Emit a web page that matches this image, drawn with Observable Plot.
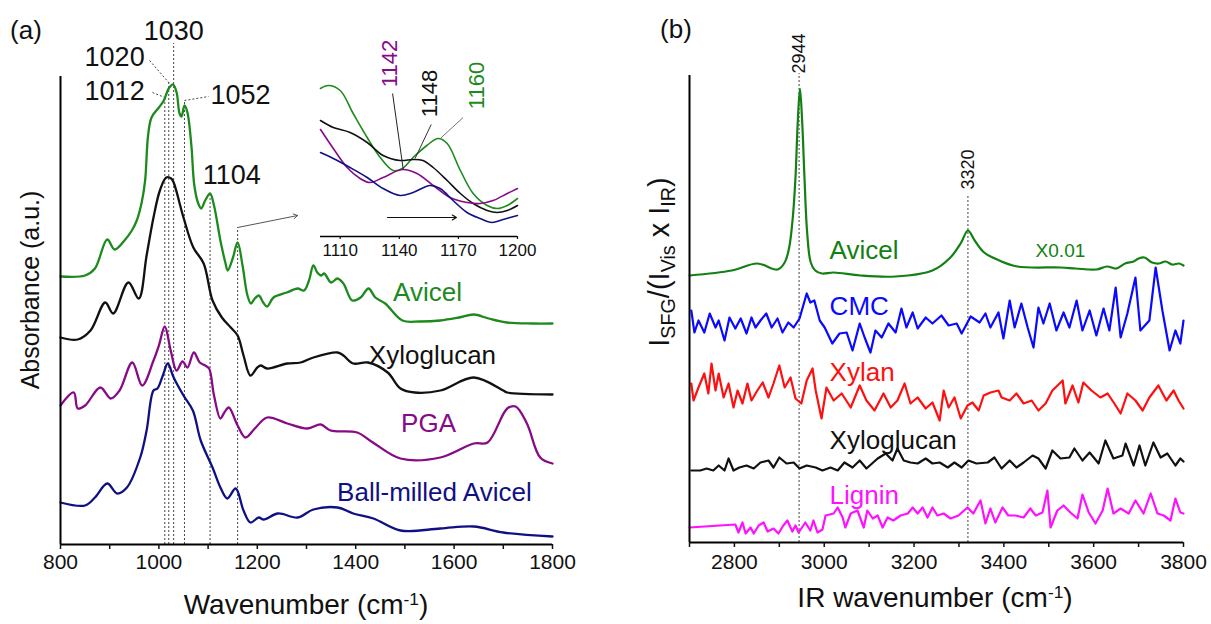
<!DOCTYPE html>
<html>
<head>
<meta charset="utf-8">
<script src="https://cdn.jsdelivr.net/npm/d3@7"></script>
<script src="https://cdn.jsdelivr.net/npm/@observablehq/plot@0.6"></script>
<style>
  body { margin: 0; background: #fff; }
  #fig { position: relative; width: 1211px; height: 624px; overflow: hidden; background: #fff;
         font-family: "Liberation Sans", Arial, Helvetica, sans-serif; color: #111; }
  #fig svg { position: absolute; top: 0; overflow: visible; }
  .lbl { position: absolute; white-space: nowrap; line-height: 1; }
  .lbl sub { font-size: 0.68em; vertical-align: -0.3em; }
  .lbl sup { font-size: 0.62em; vertical-align: 0.55em; }
</style>
</head>
<body>
<div id="fig"></div>
<script>
// ---------- (a) FTIR absorbance spectra, offset vertically [wavenumber, a.u.] ----------
const avicelA = [[800,2.68],[850,2.69],[870,2.76],[895,3.05],[910,2.95],[930,3.04],[945,3.14],[955,3.24],[965,3.42],[972,3.64],[978,4.09],[985,4.27],[1000,4.37],[1010,4.44],[1020,4.56],[1029,4.60],[1036,4.52],[1042,4.31],[1046,4.28],[1052,4.39],[1058,4.32],[1066,3.99],[1072,3.59],[1080,3.41],[1086,3.36],[1094,3.44],[1104,3.51],[1112,3.39],[1125,3.04],[1135,2.82],[1140,2.74],[1150,2.86],[1160,3.02],[1170,2.79],[1180,2.49],[1187,2.41],[1195,2.46],[1203,2.49],[1212,2.42],[1220,2.38],[1233,2.47],[1260,2.52],[1282,2.56],[1295,2.54],[1305,2.64],[1314,2.79],[1322,2.72],[1330,2.69],[1336,2.71],[1350,2.62],[1363,2.66],[1375,2.61],[1393,2.44],[1410,2.47],[1426,2.56],[1440,2.47],[1460,2.41],[1495,2.24],[1530,2.23],[1572,2.24],[1610,2.27],[1640,2.30],[1670,2.26],[1708,2.22],[1760,2.21],[1800,2.21]];
const xyloglucanA = [[800,2.07],[835,2.05],[861,2.14],[891,2.42],[907,2.31],[938,2.62],[959,2.46],[975,2.89],[989,3.27],[1002,3.54],[1015,3.67],[1025,3.66],[1030,3.62],[1050,3.27],[1070,2.97],[1091,2.81],[1109,2.44],[1128,2.27],[1146,2.17],[1160,2.09],[1172,1.89],[1186,1.69],[1200,1.77],[1207,1.79],[1220,1.76],[1261,1.81],[1288,1.82],[1314,1.87],[1363,1.92],[1375,1.89],[1395,1.81],[1425,1.82],[1465,1.72],[1491,1.56],[1520,1.52],[1572,1.54],[1640,1.67],[1700,1.54],[1708,1.52],[1800,1.50]];
const pgaA = [[800,1.39],[827,1.52],[835,1.36],[850,1.39],[881,1.57],[902,1.46],[920,1.54],[946,1.82],[966,1.59],[989,1.84],[1000,1.99],[1012,2.18],[1024,1.94],[1036,1.74],[1048,1.83],[1058,1.77],[1071,1.92],[1083,1.82],[1094,1.79],[1102,1.76],[1112,1.49],[1125,1.26],[1133,1.32],[1142,1.37],[1160,1.19],[1176,1.07],[1195,1.16],[1220,1.27],[1261,1.21],[1302,1.16],[1329,1.20],[1349,1.14],[1403,1.12],[1435,1.02],[1491,0.86],[1572,0.87],[1640,1.01],[1668,1.02],[1708,1.36],[1725,1.38],[1748,1.21],[1775,0.87],[1800,0.81]];
const ballMilledA = [[800,0.42],[850,0.39],[870,0.47],[895,0.61],[915,0.51],[935,0.57],[962,0.87],[975,1.14],[989,1.54],[997,1.56],[1008,1.69],[1018,1.81],[1030,1.67],[1050,1.49],[1069,1.34],[1085,1.04],[1109,0.77],[1125,0.57],[1139,0.46],[1156,0.56],[1172,0.34],[1186,0.22],[1203,0.27],[1213,0.25],[1242,0.31],[1282,0.27],[1314,0.35],[1363,0.37],[1395,0.31],[1436,0.26],[1491,0.14],[1572,0.16],[1640,0.18],[1700,0.12],[1800,0.08]];

// marked bands and the height their guide lines reach
const peaksA = [1012, 1020, 1030, 1052, 1104, 1160];
const peakTopsA = [4.47, 4.62, 5.01, 4.44, 3.51, 3.17];
const xTicksA = [800, 1000, 1200, 1400, 1600, 1800];

// ---------- inset: 1100-1200 cm-1 region ----------
const insetAvicel = [[1100,1.48],[1104,1.51],[1110,1.46],[1116.6,1.23],[1123.7,0.99],[1130.3,0.79],[1136.9,0.66],[1141.5,0.68],[1147,0.79],[1154,0.91],[1159.7,0.98],[1164.3,0.93],[1171,0.66],[1177.5,0.43],[1184.6,0.31],[1189.7,0.28],[1194.8,0.31],[1200,0.38]];
const insetXyloglucan = [[1100,1.16],[1106.5,1.09],[1115,1.04],[1123.7,0.94],[1131.8,0.81],[1140.4,0.76],[1147,0.77],[1152,0.76],[1157.2,0.69],[1164.3,0.56],[1171,0.43],[1177.5,0.33],[1184.6,0.26],[1189.7,0.24],[1194.8,0.26],[1200,0.31]];
const insetPGA = [[1100,1.07],[1106.5,0.88],[1113.5,0.69],[1120.1,0.58],[1125.2,0.54],[1131.8,0.59],[1141.5,0.67],[1149,0.63],[1157.2,0.51],[1165.8,0.39],[1174.4,0.34],[1181,0.33],[1187.6,0.36],[1194.8,0.43],[1200,0.48]];
const insetBallMilled = [[1100,0.84],[1106.5,0.78],[1115,0.69],[1123.7,0.59],[1131.8,0.48],[1140.4,0.41],[1147,0.44],[1155.6,0.51],[1160.7,0.48],[1167.3,0.36],[1174.4,0.24],[1181,0.18],[1187,0.14],[1192.7,0.17],[1200,0.21]];
const insetTicks = [1110, 1140, 1170, 1200];

// ---------- (b) SFG spectra, offset vertically [IR wavenumber, a.u.] ----------
const sfgAvicel = [[2700,2.67],[2794,2.72],[2851,2.79],[2896,2.73],[2912,2.80],[2922,2.95],[2930,3.25],[2936,3.65],[2941,4.20],[2946,4.54],[2951,4.20],[2956,3.65],[2962,3.10],[2970,2.80],[2980,2.72],[2995,2.69],[3021,2.70],[3080,2.67],[3159,2.66],[3241,2.72],[3281,2.85],[3305,3.00],[3320,3.12],[3335,3.02],[3356,2.90],[3390,2.82],[3430,2.76],[3526,2.75],[3560,2.74],[3606,2.73],[3630,2.76],[3650,2.74],[3670,2.79],[3689,2.81],[3700,2.84],[3713,2.85],[3730,2.80],[3745,2.79],[3760,2.81],[3775,2.78],[3790,2.79],[3800,2.77]];
const sfgCMC = [[2704,2.32],[2711,2.10],[2720,2.22],[2733,2.10],[2745,2.29],[2758,2.15],[2765,2.22],[2778,2.02],[2789,2.25],[2802,2.14],[2814,2.24],[2827,2.09],[2838,2.25],[2847,2.15],[2858,2.22],[2871,2.29],[2883,2.15],[2896,2.24],[2907,2.10],[2920,2.20],[2932,2.15],[2945,2.24],[2961,2.49],[2969,2.40],[2978,2.42],[2990,2.22],[3001,2.15],[3018,1.99],[3034,2.09],[3050,2.10],[3063,1.92],[3079,2.19],[3090,2.05],[3103,1.90],[3114,2.12],[3128,2.05],[3143,2.19],[3159,2.10],[3172,2.34],[3183,2.15],[3197,2.30],[3208,2.14],[3226,2.25],[3241,2.19],[3261,2.27],[3277,2.17],[3295,2.19],[3306,2.09],[3326,2.26],[3346,2.20],[3359,2.29],[3370,2.15],[3388,2.30],[3399,2.04],[3413,2.42],[3424,2.15],[3439,2.39],[3453,2.15],[3466,1.95],[3477,2.35],[3488,2.19],[3502,2.39],[3517,2.12],[3533,2.30],[3546,2.15],[3562,2.42],[3575,2.12],[3591,2.32],[3606,2.07],[3622,2.34],[3635,2.12],[3649,2.55],[3660,2.05],[3675,2.29],[3693,2.65],[3704,2.12],[3724,2.22],[3738,2.75],[3753,2.32],[3769,1.92],[3782,2.12],[3793,1.99],[3800,2.22]];
const sfgXylan = [[2704,1.59],[2709,1.42],[2720,1.55],[2733,1.69],[2742,1.49],[2749,1.79],[2758,1.52],[2765,1.69],[2776,1.45],[2787,1.59],[2798,1.35],[2807,1.52],[2818,1.39],[2829,1.59],[2838,1.42],[2851,1.52],[2863,1.60],[2876,1.45],[2887,1.59],[2900,1.77],[2912,1.55],[2925,1.65],[2936,1.44],[2949,1.39],[2961,1.62],[2974,1.74],[2981,1.52],[2994,1.24],[3005,1.55],[3021,1.42],[3039,1.49],[3059,1.35],[3079,1.57],[3094,1.42],[3112,1.32],[3132,1.49],[3148,1.35],[3163,1.42],[3179,1.59],[3192,1.39],[3208,1.45],[3226,1.34],[3241,1.40],[3257,1.22],[3266,1.52],[3277,1.35],[3290,1.45],[3304,1.24],[3319,1.37],[3330,1.40],[3344,1.32],[3355,1.47],[3370,1.50],[3388,1.52],[3395,1.45],[3413,1.42],[3428,1.49],[3444,1.39],[3462,1.42],[3477,1.32],[3493,1.39],[3508,1.52],[3531,1.62],[3537,1.39],[3553,1.57],[3566,1.40],[3577,1.60],[3595,1.52],[3615,1.45],[3631,1.49],[3646,1.39],[3660,1.29],[3675,1.49],[3693,1.42],[3709,1.32],[3724,1.45],[3744,1.57],[3762,1.42],[3778,1.52],[3789,1.42],[3800,1.34]];
const sfgXyloglucan = [[2704,0.72],[2724,0.72],[2738,0.74],[2753,0.72],[2765,0.77],[2778,0.72],[2787,0.84],[2798,0.72],[2811,0.75],[2827,0.77],[2843,0.74],[2858,0.80],[2876,0.82],[2887,0.75],[2900,0.85],[2916,0.79],[2932,0.80],[2945,0.74],[2961,0.77],[2981,0.75],[2996,0.72],[3014,0.75],[3030,0.72],[3045,0.80],[3063,0.75],[3079,0.82],[3094,0.74],[3119,0.84],[3137,0.89],[3152,0.82],[3163,0.94],[3177,0.82],[3192,0.80],[3208,0.79],[3226,0.84],[3241,0.79],[3257,0.80],[3275,0.75],[3290,0.80],[3306,0.75],[3321,0.82],[3339,0.79],[3364,0.80],[3379,0.85],[3395,0.74],[3413,0.82],[3428,0.75],[3444,0.80],[3464,0.87],[3477,0.84],[3493,0.74],[3508,0.92],[3526,0.84],[3546,0.85],[3557,0.94],[3575,0.82],[3591,0.90],[3611,0.79],[3626,1.02],[3644,0.84],[3664,0.87],[3671,0.99],[3689,0.77],[3702,0.97],[3715,0.77],[3733,1.00],[3749,0.85],[3764,0.89],[3782,0.77],[3793,0.84],[3800,0.81]];
const sfgLignin = [[2700,0.15],[2802,0.18],[2809,0.10],[2818,0.20],[2825,0.09],[2836,0.15],[2843,0.09],[2854,0.17],[2865,0.20],[2874,0.11],[2887,0.14],[2898,0.09],[2909,0.17],[2918,0.22],[2929,0.11],[2936,0.17],[2943,0.10],[2958,0.20],[2969,0.12],[2976,0.22],[2985,0.10],[2996,0.13],[3003,0.27],[3021,0.29],[3030,0.35],[3041,0.25],[3047,0.15],[3059,0.29],[3074,0.32],[3088,0.15],[3096,0.32],[3108,0.24],[3119,0.27],[3130,0.15],[3141,0.25],[3154,0.22],[3170,0.27],[3186,0.29],[3197,0.35],[3208,0.29],[3219,0.35],[3230,0.25],[3241,0.35],[3252,0.27],[3266,0.29],[3281,0.24],[3299,0.27],[3319,0.35],[3332,0.29],[3348,0.42],[3359,0.19],[3370,0.34],[3381,0.20],[3397,0.35],[3410,0.27],[3426,0.27],[3444,0.25],[3459,0.34],[3471,0.27],[3486,0.30],[3497,0.52],[3504,0.15],[3519,0.32],[3533,0.37],[3548,0.30],[3564,0.24],[3575,0.48],[3589,0.30],[3604,0.19],[3620,0.32],[3631,0.54],[3644,0.29],[3660,0.34],[3678,0.29],[3693,0.42],[3711,0.29],[3727,0.49],[3742,0.29],[3756,0.27],[3771,0.22],[3782,0.44],[3793,0.30],[3800,0.29]];

const peaksB = [2944, 3320];
const peakTopsB = [4.69, 3.47];
const xTicksB = [2800, 3000, 3200, 3400, 3600, 3800];

// ---------- drawing ----------
const fontFamily = '"Liberation Sans", Arial, Helvetica, sans-serif';
const baseStyle = {fontFamily, background: "transparent", overflow: "visible", color: "#111"};
const C = {green: "#1d8a1d", black: "#111", purple: "#870a87", navy: "#101085",
           sfgGreen: "#138013", blue: "#0a0aff", red: "#ff1010", magenta: "#ff10ff"};

const spectrum = (data, stroke, strokeWidth, curve = "linear") =>
  Plot.line(data, {x: d => d[0], y: d => d[1], stroke, strokeWidth, curve, strokeLinejoin: "round"});
const label = (x, y, text, fill, fontSize, extra = {}) =>
  Plot.text([text], {x, y, text: d => d, fill, fontSize, ...extra});

const fig = document.getElementById("fig");
const place = (svg, left) => { svg.style.left = left + "px"; fig.appendChild(svg); };

// panel (a)
const plotA = Plot.plot({
  width: 600, height: 624,
  marginLeft: 60, marginRight: 48, marginTop: 76, marginBottom: 80,
  style: baseStyle,
  x: {domain: [800, 1800]},
  y: {domain: [0, 4.68], axis: null},
  marks: [
    Plot.ruleX(peaksA, {x: d => d, y1: 0, y2: (d, i) => peakTopsA[i],
      stroke: "#444", strokeWidth: 1, strokeDasharray: "2,2"}),
    Plot.link([
      {x1: 987, y1: 4.52, x2: 1012, y2: 4.47},
      {x1: 981, y1: 4.84, x2: 1020, y2: 4.62},
      {x1: 1052, y1: 4.44, x2: 1101, y2: 4.48}
    ], {x1: "x1", y1: "y1", x2: "x2", y2: "y2", stroke: "#444", strokeWidth: 1, strokeDasharray: "2,2"}),
    Plot.arrow([{x1: 1160, y1: 3.17, x2: 1282, y2: 3.29}],
      {x1: "x1", y1: "y1", x2: "x2", y2: "y2", stroke: "#555", strokeWidth: 1, headLength: 7}),
    spectrum(avicelA, C.green, 2.3, "catmull-rom"),
    spectrum(xyloglucanA, C.black, 2.3, "catmull-rom"),
    spectrum(pgaA, C.purple, 2.3, "catmull-rom"),
    spectrum(ballMilledA, C.navy, 2.3, "catmull-rom"),
    Plot.ruleX([800], {stroke: "#000", strokeWidth: 2}),
    Plot.ruleY([0], {stroke: "#000", strokeWidth: 2}),
    Plot.axisX({ticks: d3.range(800, 1801, 100), tickSize: 5, tickPadding: 5, strokeWidth: 1.5,
      tickFormat: d => xTicksA.includes(d) ? String(d) : "", fontSize: 21, label: null}),
    label(1030, 5.13, "1030", "#111", 27),
    label(910, 4.87, "1020", "#111", 27),
    label(910, 4.53, "1012", "#111", 27),
    label(1166, 4.49, "1052", "#111", 27),
    label(1148, 3.69, "1104", "#111", 27),
    label(1546, 2.52, "Avicel", C.green, 26),
    label(1556, 1.89, "Xyloglucan", C.black, 26),
    label(1548, 1.21, "PGA", C.purple, 26),
    label(1560, 0.52, "Ball-milled Avicel", C.navy, 26)
  ]
});
place(plotA, 0);

// inset of panel (a)
const inset = Plot.plot({
  width: 260, height: 300,
  marginLeft: 20, marginRight: 43, marginTop: 76, marginBottom: 64,
  style: baseStyle,
  x: {domain: [1100, 1200]},
  y: {domain: [0, 1.6], axis: null},
  marks: [
    spectrum(insetAvicel, C.green, 1.6, "catmull-rom"),
    spectrum(insetXyloglucan, C.black, 1.6, "catmull-rom"),
    spectrum(insetPGA, C.purple, 1.6, "catmull-rom"),
    spectrum(insetBallMilled, C.navy, 1.6, "catmull-rom"),
    Plot.link([
      {x1: 1136.6, y1: 1.43, x2: 1142, y2: 0.67, c: "#222"},
      {x1: 1156.2, y1: 1.12, x2: 1148, y2: 0.78, c: "#333"},
      {x1: 1172.4, y1: 1.19, x2: 1160.8, y2: 0.98, c: "#777"}
    ], {x1: "x1", y1: "y1", x2: "x2", y2: "y2", stroke: "c", strokeWidth: 1}),
    Plot.arrow([{x1: 1134, y1: 0.19, x2: 1169, y2: 0.19}],
      {x1: "x1", y1: "y1", x2: "x2", y2: "y2", stroke: "#111", strokeWidth: 1.2, headLength: 6}),
    label(1135.5, 1.73, "1142", C.purple, 22, {rotate: -90}),
    label(1155.7, 1.43, "1148", C.black, 22, {rotate: -90}),
    label(1179.6, 1.51, "1160", C.green, 22, {rotate: -90}),
    Plot.ruleY([0], {stroke: "#000", strokeWidth: 1.5}),
    Plot.axisX({ticks: insetTicks, tickSize: 3, tickPadding: 4, strokeWidth: 1.2,
      tickFormat: d => String(d), fontSize: 17, label: null})
  ]
});
place(inset, 300);

// panel (b)
const plotB = Plot.plot({
  width: 591, height: 624,
  marginLeft: 69, marginRight: 28, marginTop: 75, marginBottom: 82,
  style: baseStyle,
  x: {domain: [2700, 3800]},
  y: {domain: [0, 4.67], axis: null},
  marks: [
    Plot.ruleX(peaksB, {x: d => d, y1: 0, y2: (d, i) => peakTopsB[i],
      stroke: "#444", strokeWidth: 1, strokeDasharray: "2,2"}),
    spectrum(sfgAvicel, C.sfgGreen, 2.2, "catmull-rom"),
    spectrum(sfgCMC, C.blue, 2.2),
    spectrum(sfgXylan, C.red, 2.2),
    spectrum(sfgXyloglucan, C.black, 2.2),
    spectrum(sfgLignin, C.magenta, 2.2),
    Plot.ruleX([2700], {stroke: "#000", strokeWidth: 2}),
    Plot.ruleY([0], {stroke: "#000", strokeWidth: 2}),
    Plot.axisX({ticks: d3.range(2700, 3801, 100), tickSize: 5, tickPadding: 7, strokeWidth: 1.5,
      tickFormat: d => xTicksB.includes(d) ? String(d) : "", fontSize: 21, label: null}),
    label(2944, 4.89, "2944", "#111", 18, {rotate: -90}),
    label(3320, 3.73, "3320", "#111", 18, {rotate: -90}),
    label(3012, 2.92, "Avicel", C.sfgGreen, 26, {textAnchor: "start"}),
    label(3526, 2.92, "X0.01", C.sfgGreen, 19),
    label(3012, 2.36, "CMC", C.blue, 26, {textAnchor: "start"}),
    label(3012, 1.70, "Xylan", C.red, 26, {textAnchor: "start"}),
    label(3012, 1.02, "Xyloglucan", C.black, 26, {textAnchor: "start"}),
    label(3012, 0.47, "Lignin", C.magenta, 26, {textAnchor: "start"})
  ]
});
place(plotB, 620);

// panel letters and axis titles
const addLabel = (html, left, top, size, rotate = 0) => {
  const div = document.createElement("div");
  div.className = "lbl";
  div.innerHTML = html;
  div.style.left = left + "px";
  div.style.top = top + "px";
  div.style.fontSize = size + "px";
  div.style.transform = `translate(-50%, -50%) rotate(${rotate}deg)`;
  fig.appendChild(div);
};
addLabel("(a)", 26, 30, 26);
addLabel("(b)", 676, 29, 26);
addLabel("Wavenumber (cm<sup>-1</sup>)", 306, 605, 28);
addLabel("IR wavenumber (cm<sup>-1</sup>)", 935, 598, 28);
addLabel("Absorbance (a.u.)", 30, 290, 25, -90);
addLabel("I<sub>SFG</sub>/(I<sub>Vis</sub> x I<sub>IR</sub>)", 662, 262, 29, -90);
</script>
</body>
</html>
